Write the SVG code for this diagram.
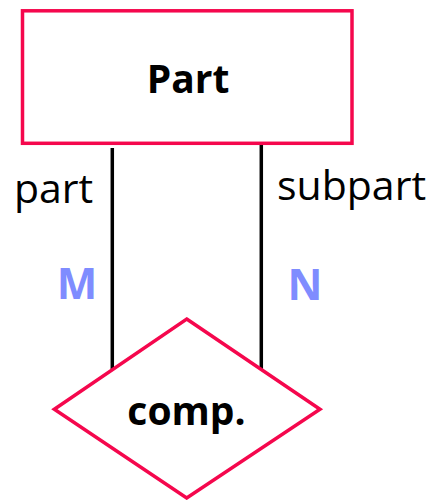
<svg xmlns="http://www.w3.org/2000/svg" width="431" height="500" viewBox="0 0 431 500">
<style>
.shape{fill:#ffffff;stroke:#f5074d;stroke-width:3.5}
.conn{stroke:#000000;stroke-width:3.5;fill:none}
.bold{font-family:"Open Sans","Liberation Sans",sans-serif;font-weight:bold;fill:#000000;text-anchor:middle}
.role{font-family:"Open Sans","Liberation Sans",sans-serif;font-size:41px;fill:#000000}
.card{font-family:"Open Sans","Liberation Sans",sans-serif;font-weight:bold;font-size:43px;fill:#7f8cff;text-anchor:middle}
</style>
<rect width="431" height="500" fill="#ffffff"/>
<g id="connectors">
<line class="conn" x1="112.3" y1="148" x2="112.3" y2="369"/>
<line class="conn" x1="261.3" y1="145" x2="261.3" y2="369"/>
<text class="role" x="14" y="203">part</text>
<text class="role" x="277" y="200">subpart</text>
<text class="card" x="77" y="299">M</text>
<text class="card" x="305" y="300">N</text>
</g>
<g id="node-part">
<rect class="shape" x="22.5" y="10.8" width="329.5" height="132.5"/>
<text class="bold" x="188" y="93" font-size="39">Part</text>
</g>
<g id="node-comp">
<polygon class="shape" points="186.7,319 320,409.3 186.7,498 54.3,409.3"/>
<text class="bold" x="186.5" y="425" font-size="39">comp.</text>
</g>
</svg>
